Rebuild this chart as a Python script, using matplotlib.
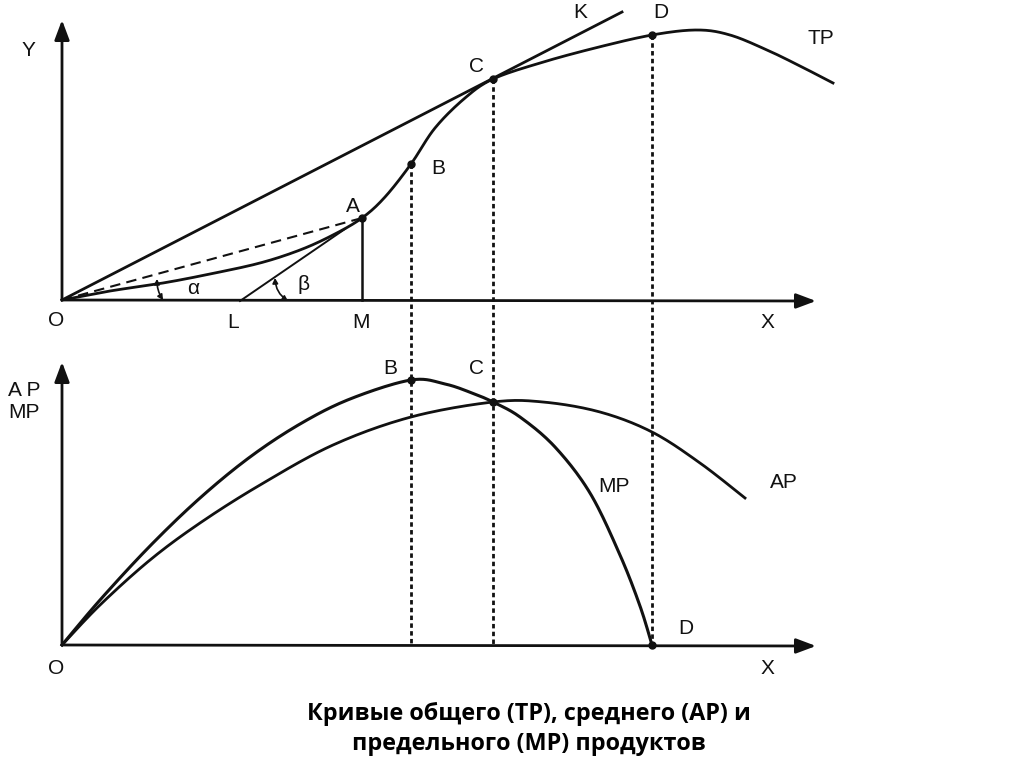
import numpy as np
import matplotlib.pyplot as plt
from matplotlib.patches import FancyArrowPatch

# coordinates (x, y in picture pixels, y down)
tp_x = [62, 110, 163, 210, 260, 300, 333, 362, 385, 411, 435, 465, 493, 540, 595, 652, 697, 730, 767, 800, 833]
tp_y = [300, 291, 283, 274, 263, 250, 235, 218, 197, 164, 128, 98, 79, 63, 48, 35, 30, 35, 50, 66, 83]

mp_x = [62, 100, 150, 200, 250, 300, 350, 411, 445, 472, 493, 520, 555, 590, 620, 640, 652]
mp_y = [645, 600, 546, 498, 457, 424, 399, 380, 384, 393, 402, 417, 447, 493, 555, 606, 645]

ap_x = [62, 100, 150, 200, 260, 333, 411, 493, 543, 600, 652, 700, 745]
ap_y = [645, 605, 560, 523, 485, 445, 417, 402, 402, 412, 432, 463, 498]

# points A, B, C, D on TP and B, C, D on the lower panel
top_pts = {"A": (362, 218), "B": (411, 164), "C": (493, 79), "D": (652, 35)}
low_pts = {"B": (411, 380), "C": (493, 402), "D": (652, 645)}

origin_top = (62, 300)
origin_low = (62, 645)
ray_k = (622, 12)          # end of the ray O-C-K
point_l = (240, 301)       # where the tangent at A meets the X axis
tangent_end = (345, 229)

title = "Кривые общего (TP), среднего (AP) и\nпредельного (MP) продуктов"


def smooth(xs, ys, n=20):
    # catmull-rom through the read points, only to draw them round
    p = np.column_stack([xs, ys]).astype(float)
    p = np.vstack([p[0], p, p[-1]])
    out = []
    t = np.linspace(0, 1, n, endpoint=False)[:, None]
    for i in range(1, len(p) - 2):
        p0, p1, p2, p3 = p[i - 1], p[i], p[i + 1], p[i + 2]
        seg = 0.5 * ((2 * p1) + (-p0 + p2) * t + (2 * p0 - 5 * p1 + 4 * p2 - p3) * t ** 2
                     + (-p0 + 3 * p1 - 3 * p2 + p3) * t ** 3)
        out.append(seg)
    out.append(p[-2][None, :])
    out = np.vstack(out)
    return out[:, 0], out[:, 1]


fig = plt.figure(figsize=(10.24, 7.67), dpi=100)
ax = fig.add_axes([0, 0, 1, 1])
ax.set_xlim(0, 1024)
ax.set_ylim(767, 0)
ax.axis("off")

ink = "#111111"
lab = dict(fontsize=15, family=["Liberation Sans", "DejaVu Sans"], color=ink,
           ha="center", va="center")

# axes with arrows
for (ox, oy), top in [(origin_top, 20), (origin_low, 362)]:
    ax.annotate("", xy=(ox, top), xytext=(ox, oy),
                arrowprops=dict(arrowstyle="-|>,head_length=1.2,head_width=0.45", lw=2, color=ink,
                                shrinkA=0, shrinkB=0))
    ax.annotate("", xy=(816, oy + 1), xytext=(ox, oy),
                arrowprops=dict(arrowstyle="-|>,head_length=1.2,head_width=0.45", lw=2, color=ink,
                                shrinkA=0, shrinkB=0))

# curves
x, y = smooth(tp_x, tp_y)
ax.plot(x, y, color=ink, lw=2)
x, y = smooth(mp_x, mp_y)
ax.plot(x, y, color=ink, lw=2.2)
x, y = smooth(ap_x, ap_y)
ax.plot(x, y, color=ink, lw=2)

# ray O-K, dashed O-A, tangent L-A, vertical A-M
ax.plot([origin_top[0], ray_k[0]], [origin_top[1], ray_k[1]], color=ink, lw=2)
ax.plot([origin_top[0], top_pts["A"][0]], [origin_top[1], top_pts["A"][1]],
        color=ink, lw=1.5, dashes=(5, 3))
ax.plot([point_l[0], tangent_end[0]], [point_l[1], tangent_end[1]], color=ink, lw=1.4)
ax.plot([top_pts["A"][0]] * 2, [top_pts["A"][1], origin_top[1]], color=ink, lw=1.8)

# dotted drops from B, C, D
for k in ["B", "C", "D"]:
    ax.plot([top_pts[k][0]] * 2, [top_pts[k][1], origin_low[1]], color=ink, lw=2,
            dashes=(1.6, 1.2))

# dots
for d in (top_pts, low_pts):
    xs = [v[0] for v in d.values()]
    ys = [v[1] for v in d.values()]
    ax.plot(xs, ys, "o", color=ink, ms=5)

# angle marks
for a, b, rad in [((163, 300), (157, 279), -0.15), ((288, 301), (275, 278), -0.25)]:
    ax.add_patch(FancyArrowPatch(a, b, connectionstyle=f"arc3,rad={rad}",
                                 arrowstyle="<|-|>,head_length=3,head_width=1.6",
                                 lw=1.2, color=ink, shrinkA=0, shrinkB=0))
ax.text(193, 289, "α", **lab)
ax.text(304, 285, "β", **lab)

# letters
for t, px, py in [("Y", 28, 50), ("O", 56, 321), ("L", 233, 322), ("M", 361, 322),
                  ("X", 767, 322), ("A", 353, 206), ("B", 438, 169), ("C", 477, 67),
                  ("K", 580, 12), ("D", 661, 13), ("TP", 821, 39),
                  ("B", 390, 368), ("C", 477, 368), ("MP", 614, 487), ("AP", 784, 482),
                  ("D", 686, 628), ("O", 56, 669), ("X", 767, 668),
                  ("A P", 24, 390), ("MP", 24, 412)]:
    ax.text(px, py, t, **lab)

ax.text(529, 729, title, fontsize=16.8, fontweight="bold", family=["Open Sans", "DejaVu Sans"],
        ha="center", va="center", linespacing=1.3, color="black")

fig.savefig("out.png", dpi=100)
